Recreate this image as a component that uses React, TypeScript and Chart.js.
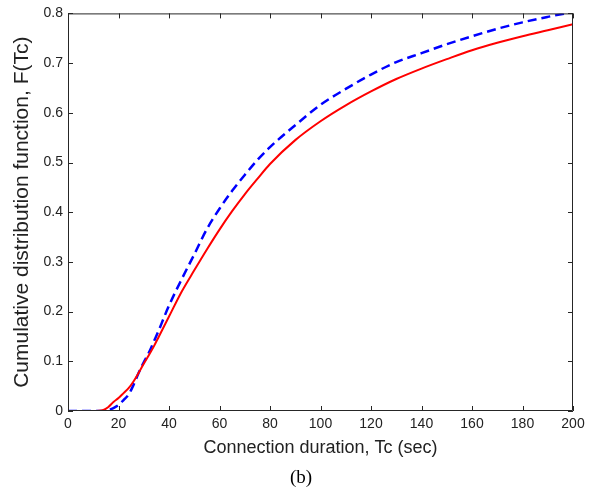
import React, { useEffect, useRef } from "react";
import { Chart, registerables } from "chart.js";

Chart.register(...registerables);

// Connection duration Tc (sec)
const tcValues = [0, 5, 10, 14, 16, 18, 20, 22, 24, 26, 28, 30, 32, 34, 36, 38, 40, 45, 50, 55, 60, 65, 70, 75, 80, 90, 100, 110, 120, 130, 140, 150, 160, 170, 180, 190, 200];

// Red solid curve
const redCdf = [0, 0, 0, 0.002, 0.008, 0.018, 0.026, 0.036, 0.046, 0.06, 0.077, 0.095, 0.112, 0.13, 0.15, 0.17, 0.19, 0.24, 0.283, 0.325, 0.365, 0.402, 0.436, 0.467, 0.497, 0.545, 0.583, 0.615, 0.643, 0.668, 0.689, 0.708, 0.726, 0.741, 0.754, 0.766, 0.778];

// Blue dashed curve
const blueCdf = [0, 0, 0, 0, 0.002, 0.006, 0.012, 0.022, 0.033, 0.053, 0.077, 0.098, 0.117, 0.14, 0.163, 0.188, 0.212, 0.265, 0.315, 0.366, 0.407, 0.443, 0.475, 0.505, 0.531, 0.575, 0.616, 0.648, 0.677, 0.702, 0.72, 0.738, 0.754, 0.769, 0.782, 0.793, 0.803];

const xTitle = "Connection duration, Tc (sec)";
const yTitle = "Cumulative distribution function, F(Tc)";
const caption = "(b)";

const frameColor = "#262626";
const textColor = "#222222";
const sansFont = "'Liberation Sans', Arial, sans-serif";
const serifFont = "'Liberation Serif', 'Times New Roman', serif";

const framePlugin = {
  id: "matlabFrame",
  afterDatasetsDraw(chart: any) {
    const { ctx, chartArea } = chart;
    const { left, right, top, bottom } = chartArea;
    const tl = 5;
    ctx.save();
    ctx.strokeStyle = frameColor;
    ctx.lineWidth = 1;
    ctx.beginPath();
    ctx.rect(left + 0.5, top + 0.5, right - left - 1, bottom - top - 1);
    const xs = chart.scales.x;
    xs.ticks.forEach((t: any) => {
      const px = Math.round(xs.getPixelForValue(t.value)) + 0.5;
      ctx.moveTo(px, bottom);
      ctx.lineTo(px, bottom - tl);
      ctx.moveTo(px, top);
      ctx.lineTo(px, top + tl);
    });
    const ys = chart.scales.y;
    ys.ticks.forEach((t: any) => {
      const py = Math.round(ys.getPixelForValue(t.value)) + 0.5;
      ctx.moveTo(left, py);
      ctx.lineTo(left + tl, py);
      ctx.moveTo(right, py);
      ctx.lineTo(right - tl, py);
    });
    ctx.stroke();
    ctx.restore();
  },
};

const captionPlugin = {
  id: "figureCaption",
  afterDraw(chart: any) {
    const { ctx } = chart;
    const xs = chart.scales.x;
    ctx.save();
    ctx.fillStyle = "#000";
    ctx.font = `19px ${serifFont}`;
    ctx.textAlign = "center";
    ctx.textBaseline = "middle";
    ctx.fillText(caption, chart.width / 2, xs.bottom + 19);
    ctx.restore();
  },
};

export default function App() {
  const canvasRef = useRef<HTMLCanvasElement | null>(null);

  useEffect(() => {
    const canvas = canvasRef.current;
    if (!canvas) return;
    const chart = new Chart(canvas, {
      type: "line",
      data: {
        labels: tcValues,
        datasets: [
          {
            label: "red",
            data: tcValues.map((x, i) => ({ x, y: redCdf[i] })),
            borderColor: "#ff0000",
            borderWidth: 2,
            pointRadius: 0,
            cubicInterpolationMode: "monotone",
            fill: false,
          },
          {
            label: "blue",
            data: tcValues.map((x, i) => ({ x, y: blueCdf[i] })),
            borderColor: "#0000ff",
            borderWidth: 2.5,
            borderDash: [9, 5],
            pointRadius: 0,
            cubicInterpolationMode: "monotone",
            fill: false,
          },
        ],
      },
      options: {
        responsive: false,
        animation: false,
        events: [],
        layout: { padding: { left: 0, right: 29, top: 13, bottom: 32 } },
        plugins: {
          legend: { display: false },
          tooltip: { enabled: false },
          title: { display: false },
        },
        scales: {
          x: {
            type: "linear",
            min: 0,
            max: 200,
            grid: { display: false, drawTicks: false },
            border: { display: false },
            ticks: {
              stepSize: 20,
              color: textColor,
              padding: 5,
              maxRotation: 0,
              font: { family: sansFont, size: 14 },
            },
            title: {
              display: true,
              text: xTitle,
              color: textColor,
              font: { family: sansFont, size: 18 },
              padding: { top: 0, bottom: 0 },
            },
            afterFit(scale: any) {
              scale.height = 48;
            },
          },
          y: {
            type: "linear",
            min: 0,
            max: 0.8,
            grid: { display: false, drawTicks: false },
            border: { display: false },
            ticks: {
              stepSize: 0.1,
              color: textColor,
              padding: 5,
              font: { family: sansFont, size: 14 },
              callback: (v: any) => (Number(v) === 0 ? "0" : Number(v).toFixed(1)),
            },
            title: {
              display: true,
              text: yTitle,
              color: textColor,
              font: { family: sansFont, size: 21 },
              padding: { top: 10, bottom: 0 },
            },
            afterFit(scale: any) {
              scale.width = 68;
            },
          },
        },
      },
      plugins: [framePlugin, captionPlugin],
    } as any);
    return () => chart.destroy();
  }, []);

  return (
    <div style={{ position: "fixed", left: 0, top: 0, width: 602, height: 491, background: "#fff" }}>
      <canvas ref={canvasRef} width={602} height={491} />
    </div>
  );
}
